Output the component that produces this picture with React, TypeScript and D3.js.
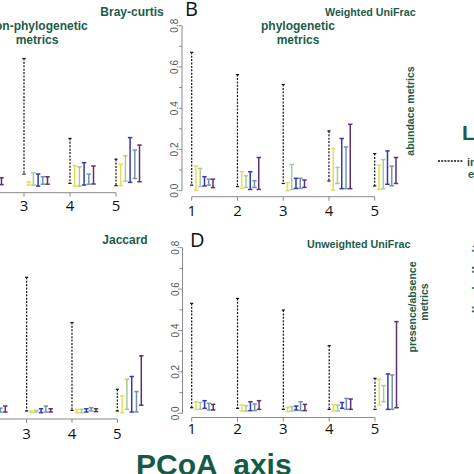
import * as d3 from "d3";

// PCoA axes and the series drawn at each axis
const axes = [1, 2, 3, 4, 5];
const seriesKeys = ["all", "yellow", "green", "blue", "slate", "purple"];
const seriesColors = ["#111111", "#e2e052", "#a9cc8e", "#3438b8", "#7195ab", "#5d3070"];

// Bray-curtis: interval low / high, one row per series, one value per axis
const brayLow = [
  [0.03, 0.02, 0.061, 0.016, 0.005],
  [0.01, 0.01, 0.008, 0.003, 0.005],
  [0.01, 0.01, 0.008, 0.003, 0.027],
  [0.01, 0.01, 0.003, 0.008, 0.021],
  [0.01, 0.01, 0.012, 0.012, 0.04],
  [0.01, 0.01, 0.012, 0.013, 0.024],
];
const brayHigh = [
  [0.6, 0.55, 0.619, 0.233, 0.133],
  [0.05, 0.04, 0.024, 0.101, 0.109],
  [0.05, 0.04, 0.067, 0.096, 0.149],
  [0.05, 0.04, 0.061, 0.116, 0.237],
  [0.04, 0.04, 0.048, 0.061, 0.177],
  [0.04, 0.043, 0.048, 0.1, 0.201],
];

// Weighted UniFrac
const wuniLow = [
  [0.027, 0.02, 0.035, 0.047, 0.023],
  [0.003, 0.011, 0.0, 0.003, 0.006],
  [0.02, 0.016, 0.006, 0.035, 0.01],
  [0.023, 0.006, 0.011, 0.01, 0.031],
  [0.027, 0.016, 0.011, 0.01, 0.024],
  [0.015, 0.006, 0.016, 0.01, 0.035],
];
const wuniHigh = [
  [0.671, 0.563, 0.515, 0.29, 0.18],
  [0.12, 0.092, 0.039, 0.204, 0.124],
  [0.108, 0.072, 0.127, 0.113, 0.151],
  [0.068, 0.092, 0.06, 0.253, 0.193],
  [0.056, 0.048, 0.06, 0.212, 0.119],
  [0.056, 0.161, 0.052, 0.322, 0.161],
];

// Jaccard
const jaccLow = [
  [0.02, 0.02, 0.016, 0.019, 0.016],
  [0.01, 0.01, 0.008, 0.008, 0.008],
  [0.01, 0.01, 0.011, 0.008, 0.024],
  [0.01, 0.01, 0.008, 0.011, 0.011],
  [0.01, 0.01, 0.011, 0.016, 0.011],
  [0.01, 0.011, 0.011, 0.013, 0.044],
];
const jaccHigh = [
  [0.55, 0.6, 0.663, 0.444, 0.121],
  [0.04, 0.03, 0.016, 0.024, 0.089],
  [0.04, 0.03, 0.019, 0.024, 0.17],
  [0.04, 0.03, 0.027, 0.027, 0.183],
  [0.04, 0.03, 0.04, 0.032, 0.11],
  [0.04, 0.04, 0.027, 0.027, 0.283],
];

// Unweighted UniFrac
const uuniLow = [
  [0.027, 0.024, 0.019, 0.019, 0.019],
  [0.019, 0.011, 0.008, 0.011, 0.04],
  [0.019, 0.011, 0.011, 0.011, 0.056],
  [0.024, 0.013, 0.016, 0.024, 0.019],
  [0.016, 0.013, 0.013, 0.019, 0.019],
  [0.016, 0.019, 0.013, 0.019, 0.027],
];
const uuniHigh = [
  [0.531, 0.555, 0.499, 0.327, 0.169],
  [0.056, 0.04, 0.029, 0.043, 0.164],
  [0.053, 0.037, 0.032, 0.04, 0.134],
  [0.061, 0.056, 0.035, 0.052, 0.19],
  [0.048, 0.045, 0.056, 0.072, 0.185],
  [0.043, 0.061, 0.043, 0.069, 0.443],
];

const GREEN = "#1b5c4b";
const SANS = "'Liberation Sans', Arial, sans-serif";
const TICKFONT = "'Open Sans', 'Noto Sans', sans-serif";

type PanelProps = {
  low: number[][];
  high: number[][];
  x1: number;
  x5: number;
  y0: number;
  y8: number;
  axisY: number;
  labelY: number;
  spread: number;
  yAxisX?: number;
};

function Panel({ low, high, x1, x5, y0, y8, axisY, labelY, spread, yAxisX }: PanelProps) {
  const x = d3.scaleLinear().domain([1, 5]).range([x1, x5]);
  const y = d3.scaleLinear().domain([0, 0.8]).range([y0, y8]);
  const off = d3.scalePoint<string>().domain(seriesKeys).range([0, spread]);
  const fmt = d3.format(".1f");

  return (
    <g>
      {seriesKeys.map((key, si) =>
        axes.map((a, ai) => {
          const cx = x(a) + (off(key) ?? 0);
          const top = y(high[si][ai]);
          const bot = y(low[si][ai]);
          const dashed = si === 0;
          const cap = dashed ? 1.6 : 2.2;
          return (
            <g key={key + a} stroke={seriesColors[si]} strokeWidth={dashed ? 1.2 : 1.5}>
              <line x1={cx} x2={cx} y1={top} y2={bot} strokeDasharray={dashed ? "2,1.4" : undefined} />
              <line x1={cx - cap} x2={cx + cap} y1={top} y2={top} />
              <line x1={cx - cap} x2={cx + cap} y1={bot} y2={bot} />
            </g>
          );
        })
      )}
      {/* x axis */}
      <line x1={x(1)} x2={x(5)} y1={axisY} y2={axisY} stroke="#8a8a8a" strokeWidth={1} />
      {axes.map((a) => (
        <line key={"xt" + a} x1={x(a)} x2={x(a)} y1={axisY} y2={axisY + 4} stroke="#8a8a8a" strokeWidth={1} />
      ))}
      {/* labels left of the crop are not part of the figure */}
      {axes
        .filter((a) => x(a) > 4)
        .map((a) => (
          <text key={"xl" + a} x={x(a)} y={labelY} textAnchor="middle" fontFamily={TICKFONT} fontSize={15} fill="#111">
            {a}
          </text>
        ))}
      {/* y axis */}
      {yAxisX !== undefined && (
        <g>
          <line x1={yAxisX} x2={yAxisX} y1={y(0)} y2={y(0.8)} stroke="#8a8a8a" strokeWidth={1} />
          {y.ticks(8).map((t) => (
            <line key={"yt" + t} x1={yAxisX - 3} x2={yAxisX} y1={y(t)} y2={y(t)} stroke="#8a8a8a" strokeWidth={1} />
          ))}
          {y.ticks(4).map((t) => (
            <text
              key={"yl" + t}
              transform={`translate(${yAxisX - 4},${y(t)}) rotate(-90)`}
              textAnchor="middle"
              fontFamily={SANS}
              fontSize={10}
              fill="#555"
            >
              {fmt(t)}
            </text>
          ))}
        </g>
      )}
    </g>
  );
}

export default function App() {
  return (
    <div style={{ position: "absolute", left: 0, top: 0, width: 474, height: 474, background: "#fff" }}>
      <svg width={474} height={474} viewBox="0 0 474 474" style={{ display: "block", overflow: "hidden" }}>
        <rect width={474} height={474} fill="#fff" />

        {/* top left: Bray-curtis */}
        <Panel low={brayLow} high={brayHigh} x1={-68} x5={116} y0={186.7} y8={21} axisY={192.7} labelY={211} spread={23.5} />
        {/* top right: Weighted UniFrac */}
        <Panel low={wuniLow} high={wuniHigh} x1={191.7} x5={374.7} y0={190.7} y8={25.7} axisY={196.7} labelY={215.5} spread={21.3} yAxisX={182} />
        {/* bottom left: Jaccard */}
        <Panel low={jaccLow} high={jaccHigh} x1={-64} x5={117.3} y0={414.3} y8={249} axisY={419} labelY={438.5} spread={24} />
        {/* bottom right: Unweighted UniFrac */}
        <Panel low={uuniLow} high={uuniHigh} x1={191.7} x5={375} y0={413.3} y8={247.7} axisY={417.5} labelY={433.5} spread={21.5} yAxisX={182.5} />

        {/* panel letters */}
        <text x={185} y={16} fontFamily={TICKFONT} fontSize={20} fill="#111">B</text>
        <text x={190} y={247} fontFamily={TICKFONT} fontSize={20} fill="#111">D</text>

        {/* panel titles */}
        <g fontFamily={SANS} fontWeight="bold" fill={GREEN}>
          <text x={132} y={16} fontSize={12} textAnchor="middle">Bray-curtis</text>
          <text x={37} y={30} fontSize={12} textAnchor="middle">Non-phylogenetic</text>
          <text x={37} y={44} fontSize={12} textAnchor="middle">metrics</text>
          <text x={325} y={16} fontSize={10.7}>Weighted UniFrac</text>
          <text x={298} y={30} fontSize={12} textAnchor="middle">phylogenetic</text>
          <text x={298} y={44} fontSize={12} textAnchor="middle">metrics</text>
          <text x={125} y={244} fontSize={12} textAnchor="middle">Jaccard</text>
          <text x={307} y={248} fontSize={10.7}>Unweighted UniFrac</text>
          <text transform="translate(414,111) rotate(-90)" fontSize={10.5} textAnchor="middle">abundace metrics</text>
          <text transform="translate(416,307) rotate(-90)" fontSize={10.5} textAnchor="middle">presence/absence</text>
          <text transform="translate(428,302) rotate(-90)" fontSize={10.5} textAnchor="middle">metrics</text>
        </g>

        {/* legend fragment at right edge */}
        <g fontFamily={SANS} fontWeight="bold" fill={GREEN}>
          <text x={462} y={140} fontSize={21}>Le</text>
          <line x1={438} x2={463} y1={161} y2={161} stroke="#111" strokeWidth={1.5} strokeDasharray="2,1.2" />
          <text x={467} y={166} fontSize={11}>in</text>
          <text x={468} y={178} fontSize={11}>e</text>
          <text transform="translate(482.5,318) rotate(-90)" fontSize={14}>dissimilarity</text>
        </g>

        {/* shared x title */}
        <text x={136} y={475} fontFamily={SANS} fontWeight="bold" fontSize={30} fill="#145a47" style={{ whiteSpace: "pre" }}>
          {"PCoA  axis"}
        </text>
      </svg>
    </div>
  );
}
